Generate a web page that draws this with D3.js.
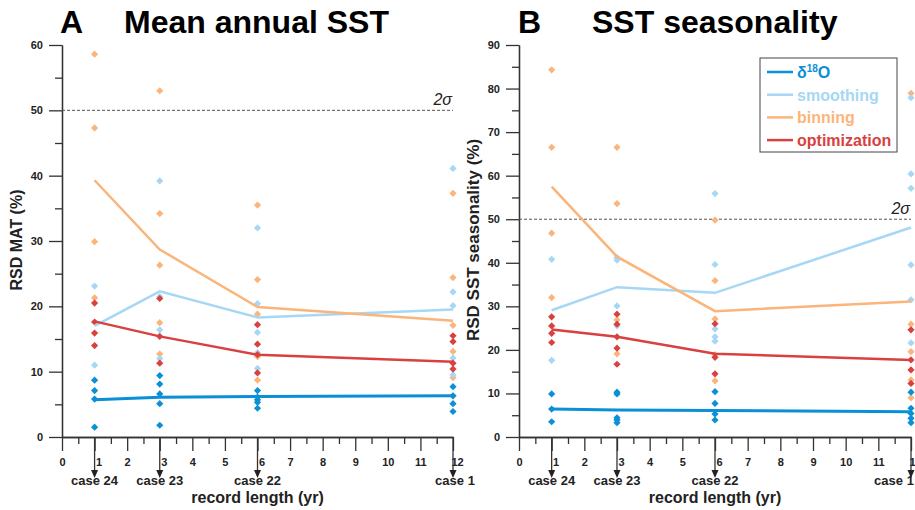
<!DOCTYPE html>
<html lang="en">
<head>
<meta charset="UTF-8">
<title>RSD of SST reconstructions</title>
<script src="https://cdn.jsdelivr.net/npm/d3@7"></script>
<style>
  body { margin: 0; background: #fff; }
  svg text { font-family: "Liberation Sans", Arial, sans-serif; }
  .axis path, .axis line { stroke: #333; stroke-width: 1.3; fill: none; }
  .axis text { font-size: 11px; font-weight: bold; fill: #222; }
</style>
</head>
<body>
<script>
// record lengths (yr) and case names
const years = [1, 3, 6, 12];
const caseLabels = ["case 24", "case 23", "case 22", "case 1"];
const seriesNames = ["δ18O", "smoothing", "binning", "optimization"];
const seriesColors = ["#0b8fd6", "#a6d7f4", "#fbb47a", "#d8413f"];

// panel A: mean annual SST, mean lines
const matD18O = [5.7, 6.1, 6.2, 6.3];
const matSmoothing = [17.0, 22.3, 18.3, 19.5];
const matBinning = [39.3, 28.7, 19.9, 17.8];
const matOptimization = [17.7, 15.4, 12.6, 11.5];
// panel A: individual results, one list per record length
const matD18OPts = [[8.7, 7.1, 5.8, 1.5], [9.4, 8.1, 6.6, 5.1, 1.8], [7.1, 6.1, 5.7, 5.3, 4.4], [7.7, 6.3, 5.1, 3.9]];
const matSmoothingPts = [[23.1, 11.0], [39.2, 21.5, 16.4, 12.0], [32.0, 20.4, 16.0, 12.9, 10.5], [41.1, 22.2, 20.1, 12.1, 9.5]];
const matBinningPts = [[58.6, 47.3, 29.9, 21.3], [53.0, 34.2, 26.3, 17.5, 12.7], [35.5, 24.1, 18.8, 12.3, 8.7], [37.3, 24.4, 17.1, 13.1, 9.1, 6.3]];
const matOptimizationPts = [[20.5, 17.6, 15.9, 14.0], [21.2, 15.4, 11.3], [17.2, 14.2, 12.6, 9.8], [15.5, 14.6, 11.3, 10.4]];

// panel B: SST seasonality, mean lines
const seasD18O = [6.4, 6.2, 6.1, 5.8];
const seasSmoothing = [29.1, 34.4, 33.1, 48.1];
const seasBinning = [57.5, 41.4, 28.9, 31.1];
const seasOptimization = [24.7, 23.0, 19.1, 17.7];
// panel B: individual results
const seasD18OPts = [[9.9, 6.4, 3.5], [10.3, 9.9, 4.4, 3.9, 3.3], [10.4, 7.7, 5.3, 3.9], [10.3, 6.6, 5.4, 4.3, 3.3]];
const seasSmoothingPts = [[40.8, 17.6], [41.2, 40.6, 30.1, 25.5], [55.9, 39.6, 24.8, 23.0, 22.0], [77.9, 60.4, 57.1, 39.5, 31.5, 21.6]];
const seasBinningPts = [[84.3, 66.5, 46.8, 32.0], [66.5, 53.6, 26.9, 19.1], [49.8, 35.9, 27.1, 18.9, 12.9], [78.9, 25.9, 19.6, 13.1, 9.0]];
const seasOptimizationPts = [[27.6, 25.5, 23.8, 21.7], [28.2, 25.9, 23.0, 20.4, 16.7], [26.0, 18.3, 14.5], [24.6, 17.7, 15.4, 12.3]];

const xTicks = d3.range(0, 13);
const twoSigma = 50;

const width = 915, height = 510;
const svg = d3.select("body").append("svg")
  .attr("width", width)
  .attr("height", height);

function drawPanel(p) {
  const x = d3.scaleLinear().domain([0, 12]).range([p.left, p.right]);
  const y = d3.scaleLinear().domain([0, p.yMax]).range([437, 45]);
  const g = svg.append("g");

  // titles
  g.append("text").attr("x", p.letterX).attr("y", 33)
    .attr("font-size", 32).attr("font-weight", "bold").text(p.letter);
  g.append("text").attr("x", p.titleX).attr("y", 33)
    .attr("font-size", 32).attr("font-weight", "bold").text(p.title);

  // y axis: labelled ticks every 10, short ticks in between
  g.append("g").attr("class", "axis")
    .attr("transform", `translate(${p.left},0)`)
    .call(d3.axisLeft(y).tickValues(d3.range(5, p.yMax, 10)).tickSize(7).tickFormat("").tickSizeOuter(0));
  g.append("g").attr("class", "axis")
    .attr("transform", `translate(${p.left},0)`)
    .call(d3.axisLeft(y).tickValues(d3.range(0, p.yMax + 1, 10)).tickSize(13).tickPadding(6).tickSizeOuter(0));

  // x axis
  g.append("g").attr("class", "axis")
    .attr("transform", "translate(0,437)")
    .call(d3.axisBottom(x).tickValues(d3.range(0.5, 12, 1)).tickSize(7).tickFormat("").tickSizeOuter(0));
  const xa = g.append("g").attr("class", "axis")
    .attr("transform", "translate(0,437)")
    .call(d3.axisBottom(x).tickValues(xTicks).tickSize(14).tickPadding(7).tickSizeOuter(0));
  xa.selectAll(".tick text")
    .attr("dx", d => years.includes(d) ? 4 : 0);

  // case arrows
  years.forEach((yr, i) => {
    const cx = x(yr);
    g.append("line").attr("x1", cx).attr("x2", cx).attr("y1", 437).attr("y2", 472)
      .attr("stroke", "#333").attr("stroke-width", 1.3);
    g.append("path").attr("d", `M${cx - 3.5},470L${cx + 3.5},470L${cx},478Z`).attr("fill", "#222");
    g.append("text")
      .attr("x", cx + (i === 3 ? p.lastCaseShift : 0)).attr("y", 485)
      .attr("text-anchor", "middle").attr("font-size", 13).attr("font-weight", "bold")
      .attr("fill", "#222").text(caseLabels[i]);
  });

  // axis titles
  g.append("text").attr("x", (p.left + p.right) / 2).attr("y", 503)
    .attr("text-anchor", "middle").attr("font-size", 16).attr("font-weight", "bold")
    .attr("fill", "#222").text("record length (yr)");
  g.append("text")
    .attr("transform", `translate(${p.yTitleX},240) rotate(-90)`)
    .attr("text-anchor", "middle").attr("font-size", p.yTitleSize).attr("font-weight", "bold")
    .attr("fill", "#222").text(p.yTitle);

  // 2 sigma threshold
  g.append("line").attr("x1", p.left).attr("x2", p.right)
    .attr("y1", y(twoSigma)).attr("y2", y(twoSigma))
    .attr("stroke", "#555").attr("stroke-width", 1).attr("stroke-dasharray", "3,2");
  g.append("text").attr("x", p.right - 1).attr("y", y(twoSigma) - 5)
    .attr("text-anchor", "end").attr("font-size", 16).attr("font-style", "italic")
    .attr("fill", "#222").text("2σ");

  // points (binning, smoothing, optimization, δ18O order)
  const marker = d3.symbol().type(d3.symbolSquare).size(26);
  [2, 1, 3, 0].forEach(s => {
    const pts = p.points[s].flatMap((vals, i) => vals.map(v => ({ x: years[i], v })));
    g.append("g").selectAll("path").data(pts).join("path")
      .attr("d", marker)
      .attr("transform", d => `translate(${x(d.x)},${y(d.v)}) rotate(45)`)
      .attr("fill", seriesColors[s]);
  });

  // mean lines
  const line = d3.line().x((d, i) => x(years[i])).y(d => y(d));
  [1, 2, 3, 0].forEach(s => {
    g.append("path").datum(p.means[s])
      .attr("d", line).attr("fill", "none")
      .attr("stroke", seriesColors[s]).attr("stroke-width", s === 0 ? 3 : 2.5);
  });
  return g;
}

drawPanel({
  left: 62, right: 453, yMax: 60,
  letter: "A", letterX: 60, title: "Mean annual SST", titleX: 124,
  yTitle: "RSD MAT (%)", yTitleX: 22, yTitleSize: 16, lastCaseShift: 2,
  means: [matD18O, matSmoothing, matBinning, matOptimization],
  points: [matD18OPts, matSmoothingPts, matBinningPts, matOptimizationPts]
});

const gB = drawPanel({
  left: 519, right: 911, yMax: 90,
  letter: "B", letterX: 518, title: "SST seasonality", titleX: 592,
  yTitle: "RSD SST seasonality (%)", yTitleX: 479, yTitleSize: 17, lastCaseShift: -17,
  means: [seasD18O, seasSmoothing, seasBinning, seasOptimization],
  points: [seasD18OPts, seasSmoothingPts, seasBinningPts, seasOptimizationPts]
});

// legend
const legend = gB.append("g");
legend.append("rect").attr("x", 760).attr("y", 58).attr("width", 137).attr("height", 94)
  .attr("fill", "#fff").attr("stroke", "#444").attr("stroke-width", 1);
seriesNames.forEach((name, i) => {
  const ly = 72 + i * 22.7;
  legend.append("line").attr("x1", 767).attr("x2", 793).attr("y1", ly).attr("y2", ly)
    .attr("stroke", seriesColors[i]).attr("stroke-width", 2.5);
  const t = legend.append("text").attr("x", 797).attr("y", ly + 6)
    .attr("font-size", 16).attr("font-weight", "bold").attr("fill", seriesColors[i]);
  if (i === 0) {
    t.append("tspan").text("δ");
    t.append("tspan").attr("font-size", 10).attr("dy", -6).text("18");
    t.append("tspan").attr("dy", 6).text("O");
  } else {
    t.text(name);
  }
});
</script>
</body>
</html>
